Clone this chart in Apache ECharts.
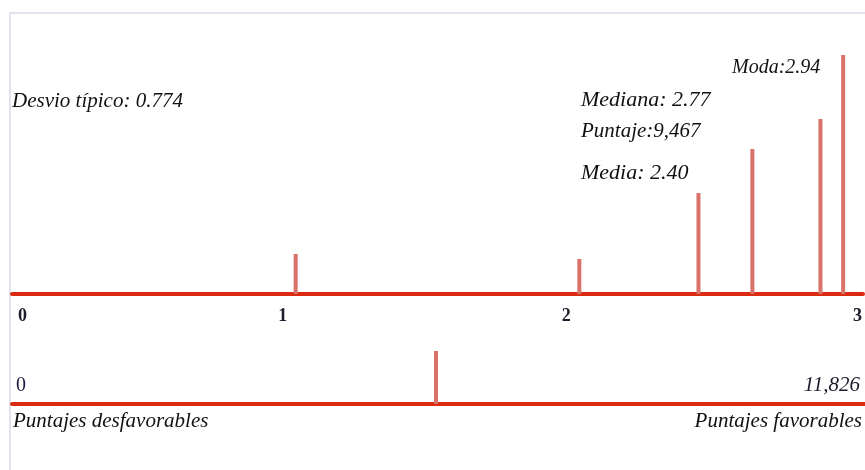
<!DOCTYPE html>
<html>
<head>
<meta charset="utf-8">
<script src="https://cdn.jsdelivr.net/npm/echarts@6/dist/echarts.min.js"></script>
<style>
html, body { margin: 0; padding: 0; background: #ffffff; }
#chart { width: 865px; height: 470px; }
</style>
</head>
<body>
<div id="chart"></div>
<script>
// escala superior (0 - 3): posicion y altura de cada barra
var topValues = [1.0, 2.0, 2.42, 2.61, 2.85, 2.93];
var topHeights = [40, 35, 101, 145, 175, 239];
var topTicks = [0, 1, 2, 3];
// escala inferior (0 - 11,826)
var bottomValues = [5878];
var bottomHeights = [53];
var bottomMax = 11826;

var serif = '"Liberation Serif", "DejaVu Serif", serif';
var lineRed = '#da2a10';
var spikeRed = '#d9716b';

function spikeSeries(xIdx, xs, hs) {
	var data = [];
	for (var i = 0; i < xs.length; i++) {
		data.push([xs[i], hs[i]]);
	}
	return {
		type : 'custom',
		xAxisIndex : xIdx,
		yAxisIndex : xIdx,
		silent : true,
		data : data,
		renderItem : function(params, api) {
			var top = api.coord([api.value(0), api.value(1)]);
			var base = api.coord([api.value(0), 0]);
			return {
				type : 'rect',
				shape : { x : top[0] - 2, y : top[1], width : 4, height : base[1] - top[1] },
				style : { fill : spikeRed }
			};
		}
	};
}

var obj = echarts.init(document.getElementById('chart'));
var option = {
	animation : false,
	grid : [
		{ left : 12, right : 0, top : 44, height : 250 },
		{ left : 12, right : 0, top : 340, height : 64 }
	],
	xAxis : [
		{
			gridIndex : 0,
			type : 'value',
			min : 0,
			max : 3,
			interval : 1,
			splitLine : { show : false },
			axisTick : { show : false },
			axisLine : { lineStyle : { color : lineRed, width : 4 } },
			axisLabel : {
				margin : 13,
				alignMinLabel : 'left',
				alignMaxLabel : 'right',
				formatter : function(v) {
					if (v == 0 || v == 3) return '{e|' + v + '}';
					return '{m|' + v + '}';
				},
				rich : {
					e : { fontFamily : serif, fontWeight : 'bold', fontSize : 18, color : '#1c1c2c', padding : [0, 1, 0, 6] },
					m : { fontFamily : serif, fontWeight : 'bold', fontSize : 18, color : '#1c1c2c', padding : [0, 26, 0, 0] }
				}
			}
		},
		{
			gridIndex : 1,
			type : 'value',
			min : 0,
			max : bottomMax,
			interval : bottomMax,
			splitLine : { show : false },
			axisTick : { show : false },
			axisLine : { lineStyle : { color : lineRed, width : 4 } },
			axisLabel : {
				inside : true,
				margin : 8,
				alignMinLabel : 'left',
				alignMaxLabel : 'right',
				formatter : function(v) {
					if (v == 0) return '{z|0}';
					return '{n|' + echarts.format.addCommas(v) + '}';
				},
				rich : {
					z : { fontFamily : serif, fontSize : 20, color : '#1c1c3c', padding : [0, 0, 0, 4] },
					n : { fontFamily : serif, fontStyle : 'italic', fontSize : 21, color : '#1c1c2c', padding : [0, 5, 0, 0] }
				}
			}
		}
	],
	yAxis : [
		{ gridIndex : 0, type : 'value', min : 0, max : 250, show : false },
		{ gridIndex : 1, type : 'value', min : 0, max : 64, show : false }
	],
	graphic : [
		{
			type : 'rect',
			silent : true,
			shape : { x : 10, y : 13, width : 900, height : 500 },
			style : { fill : 'none', stroke : '#e0e4ee', lineWidth : 2 }
		},
		{ type : 'text', left : 12, top : 91, style : { text : 'Desvio típico: 0.774', font : 'italic 21px ' + serif, fill : '#111' } },
		{ type : 'text', left : 732, top : 58, style : { text : 'Moda:2.94', font : 'italic 20px ' + serif, fill : '#111' } },
		{ type : 'text', left : 581, top : 89, style : { text : 'Mediana: 2.77', font : 'italic 22px ' + serif, fill : '#111' } },
		{ type : 'text', left : 581, top : 121, style : { text : 'Puntaje:9,467', font : 'italic 21px ' + serif, fill : '#111' } },
		{ type : 'text', left : 581, top : 162, style : { text : 'Media: 2.40', font : 'italic 22px ' + serif, fill : '#111' } },
		{ type : 'text', left : 13, top : 411, style : { text : 'Puntajes desfavorables', font : 'italic 21px ' + serif, fill : '#111' } },
		{ type : 'text', right : 3, top : 411, style : { text : 'Puntajes favorables', font : 'italic 21px ' + serif, fill : '#111' } }
	],
	series : [
		spikeSeries(0, topValues, topHeights),
		spikeSeries(1, bottomValues, bottomHeights)
	]
};
obj.setOption(option);
</script>
</body>
</html>
